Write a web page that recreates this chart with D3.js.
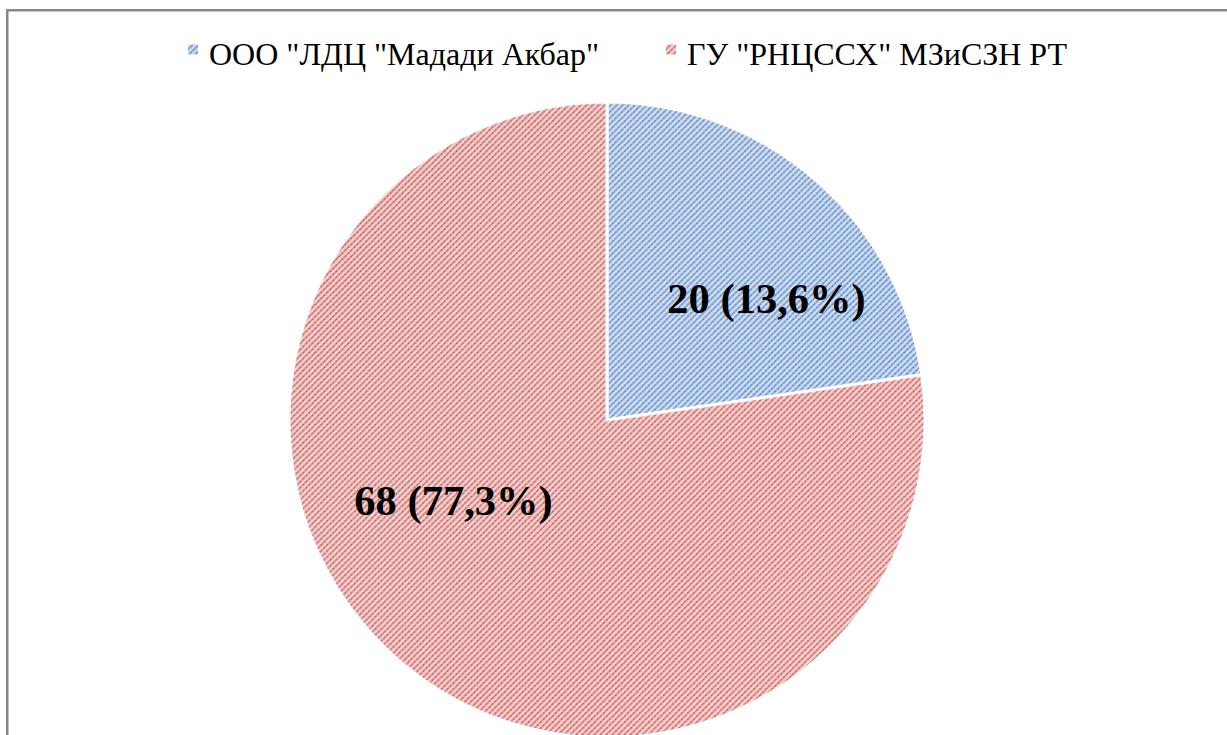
<!DOCTYPE html>
<html>
<head>
<meta charset="utf-8">
<script src="https://cdn.jsdelivr.net/npm/d3@7"></script>
<style>
  html, body { margin: 0; padding: 0; background: #ffffff; }
  svg { display: block; }
</style>
</head>
<body>
<svg id="chart" width="1227" height="735"></svg>
<script>
// Patients by institution
const categories = ['ООО "ЛДЦ "Мадади Акбар"', 'ГУ "РНЦССХ" МЗиСЗН РТ'];
const values = [20, 68];
const valueLabels = ['20 (13,6%)', '68 (77,3%)'];

const W = 1227, H = 735;
const cx = 607, cy = 420, radius = 318;
const FONT = '"Liberation Serif", "Times New Roman", serif';

const palette = [
  { bg: '#d3dff0', stripe: '#8eaedb', dot: '#5683c2' },
  { bg: '#f3d3d2', stripe: '#df9593', dot: '#c4504c' }
];

const svg = d3.select('#chart');
const defs = svg.append('defs');

// Diagonal hatch fills, one per slice
palette.forEach((p, i) => {
  const s = 4.25;
  const pat = defs.append('pattern')
    .attr('id', 'hatch' + i)
    .attr('patternUnits', 'userSpaceOnUse')
    .attr('width', s).attr('height', s)
    .attr('patternTransform', 'rotate(45)');
  pat.append('rect').attr('width', s).attr('height', s).attr('fill', p.bg);
  pat.append('rect').attr('x', 0).attr('y', 0).attr('width', 2).attr('height', s).attr('fill', p.stripe);
  pat.append('rect').attr('x', 0.3).attr('y', 0.4).attr('width', 1.4).attr('height', 1.6).attr('fill', p.dot).attr('opacity', 0.85);
});

// Chart area border
svg.append('rect')
  .attr('x', 7.25).attr('y', 10.25)
  .attr('width', 1260).attr('height', 760)
  .attr('fill', 'none')
  .attr('stroke', '#878787')
  .attr('stroke-width', 2.5);

const pie = d3.pie().sort(null).value(d => d)(values);
const arc = d3.arc().innerRadius(0).outerRadius(radius);

const g = svg.append('g').attr('transform', `translate(${cx},${cy})`);

g.selectAll('path.slice')
  .data(pie)
  .join('path')
  .attr('class', 'slice')
  .attr('d', arc)
  .attr('fill', (d, i) => `url(#hatch${i})`)
  .attr('stroke', '#ffffff')
  .attr('stroke-width', 3)
  .attr('stroke-linejoin', 'miter');

// Data labels, placed along each slice by angle fraction and radius fraction
const labelPlacement = [
  { t: 0.645, r: 0.63 },
  { t: 0.577, r: 0.545 }
];
g.selectAll('text.value')
  .data(pie)
  .join('text')
  .attr('class', 'value')
  .each(function (d, i) {
    const p = labelPlacement[i];
    const a = d.startAngle + (d.endAngle - d.startAngle) * p.t;
    const rr = radius * p.r;
    d3.select(this)
      .attr('x', Math.sin(a) * rr)
      .attr('y', -Math.cos(a) * rr);
  })
  .attr('text-anchor', 'middle')
  .attr('dominant-baseline', 'central')
  .attr('font-family', FONT)
  .attr('font-weight', 'bold')
  .attr('font-size', 42.5)
  .attr('fill', '#000000')
  .text((d, i) => valueLabels[i]);

// Legend
const legend = svg.append('g').attr('class', 'legend');
const legendX = [188, 666];
categories.forEach((c, i) => {
  const item = legend.append('g').attr('transform', `translate(${legendX[i]},0)`);
  item.append('rect')
    .attr('x', 0).attr('y', 44.5)
    .attr('width', 10).attr('height', 10)
    .attr('fill', `url(#hatch${i})`);
  item.append('text')
    .attr('x', 21).attr('y', 65)
    .attr('font-family', FONT)
    .attr('font-size', 32)
    .attr('fill', '#000000')
    .text(c);
});
</script>
</body>
</html>
